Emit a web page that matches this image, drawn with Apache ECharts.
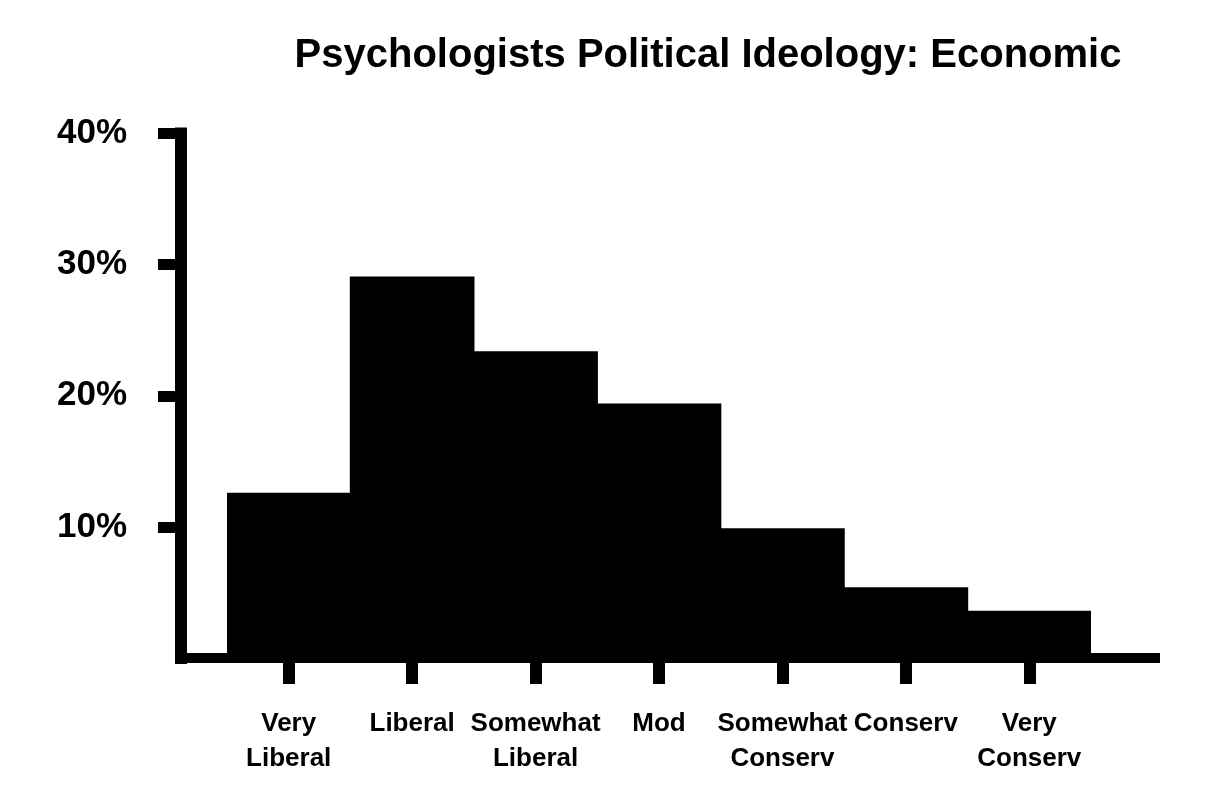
<!DOCTYPE html>
<html>
<head>
<meta charset="utf-8">
<title>Psychologists Political Ideology: Economic</title>
<script src="https://cdn.jsdelivr.net/npm/echarts@6/dist/echarts.min.js"></script>
<style>
  html, body { margin: 0; padding: 0; background: #fff; }
  #chart { width: 1222px; height: 794px; }
</style>
</head>
<body>
<div id="chart"></div>
<script>
var categories = ['Very\nLiberal', 'Liberal', 'Somewhat\nLiberal', 'Mod', 'Somewhat\nConserv', 'Conserv', 'Very\nConserv'];
var shares = [12.6, 29.1, 23.4, 19.4, 9.9, 5.4, 3.6];
var yTicks = [10, 20, 30, 40];

var font = 'Liberation Sans';
var chart = echarts.init(document.getElementById('chart'));

var option = {
	animation: false,
	backgroundColor: '#fff',
	title: {
		text: 'Psychologists Political Ideology: Economic',
		left: 703,
		top: 31,
		textAlign: 'center',
		textStyle: { fontFamily: font, fontSize: 40, fontWeight: 'bold', color: '#000' }
	},
	// grid 0 carries the long axis lines, grid 1 the bars
	grid: [
		{ left: 181, right: 62, top: 133.5, bottom: 136 },
		{ left: 227, right: 131, top: 133.5, bottom: 136 }
	],
	xAxis: [
		{
			gridIndex: 0,
			type: 'value',
			min: 0,
			max: 1,
			axisLine: { show: true, lineStyle: { color: '#000', width: 10, cap: 'butt' } },
			axisTick: { show: false },
			axisLabel: { show: false },
			splitLine: { show: false }
		},
		{
			gridIndex: 1,
			type: 'category',
			data: categories,
			axisLine: { show: false },
			axisTick: { show: true, alignWithLabel: true, length: 26, lineStyle: { color: '#000', width: 12, cap: 'butt' } },
			axisLabel: {
				interval: 0,
				margin: 48,
				color: '#000',
				fontFamily: font,
				fontSize: 26,
				fontWeight: 'bold',
				lineHeight: 35
			},
			splitLine: { show: false }
		}
	],
	yAxis: [
		{
			gridIndex: 0,
			type: 'value',
			min: 0,
			max: 40,
			interval: 10,
			axisLine: { show: true, lineStyle: { color: '#000', width: 12, cap: 'square' } },
			axisTick: { show: true, length: 23, customValues: yTicks, lineStyle: { color: '#000', width: 11, cap: 'butt' } },
			axisLabel: {
				margin: 54,
				customValues: yTicks,
				color: '#000',
				fontFamily: font,
				fontSize: 35,
				fontWeight: 'bold',
				formatter: function (v) { return v + '%'; }
			},
			splitLine: { show: false }
		},
		{
			gridIndex: 1,
			type: 'value',
			min: 0,
			max: 40,
			show: false,
			splitLine: { show: false }
		}
	],
	series: [
		{
			type: 'bar',
			xAxisIndex: 1,
			yAxisIndex: 1,
			data: shares,
			barCategoryGap: '-1%',
			itemStyle: { color: '#000' }
		}
	]
};

chart.setOption(option);
</script>
</body>
</html>
